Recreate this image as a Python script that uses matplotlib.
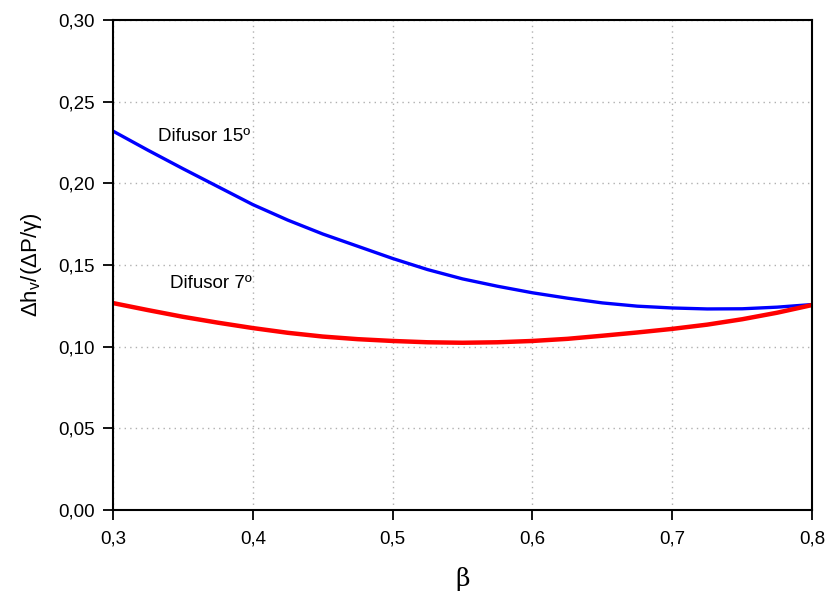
import numpy as np
import matplotlib.pyplot as plt

plt.rcParams['font.family'] = ['Liberation Sans', 'DejaVu Sans']

beta = [0.300, 0.325, 0.350, 0.375, 0.400, 0.425, 0.450, 0.475, 0.500, 0.525, 0.550,
        0.575, 0.600, 0.625, 0.650, 0.675, 0.700, 0.725, 0.750, 0.775, 0.800]
dif15 = [0.2320, 0.2203, 0.2090, 0.1980, 0.1870, 0.1775, 0.1690, 0.1615, 0.1540, 0.1472, 0.1415,
         0.1370, 0.1330, 0.1297, 0.1268, 0.1248, 0.1237, 0.1231, 0.1232, 0.1242, 0.1258]
dif7 = [0.1267, 0.1224, 0.1183, 0.1147, 0.1114, 0.1085, 0.1062, 0.1046, 0.1035, 0.1027, 0.1024,
        0.1027, 0.1035, 0.1048, 0.1067, 0.1087, 0.1109, 0.1135, 0.1168, 0.1208, 0.1255]

xticks = [0.3, 0.4, 0.5, 0.6, 0.7, 0.8]
yticks = [0.00, 0.05, 0.10, 0.15, 0.20, 0.25, 0.30]

fig = plt.figure(figsize=(8.27, 5.94), dpi=100)
ax = fig.add_axes([0.1366, 0.1414, 0.8454, 0.8249])

ax.plot(beta, dif15, color='#0000ff', lw=2.4, solid_capstyle='butt')
ax.plot(beta, dif7, color='#ff0000', lw=3.2, solid_capstyle='butt')

ax.text(0.332, 0.226, 'Difusor 15º', fontsize=13.5)
ax.text(0.3405, 0.136, 'Difusor 7º', fontsize=13.5)

ax.set_xlim(0.3, 0.8)
ax.set_ylim(0, 0.30)
ax.set_xticks(xticks)
ax.set_yticks(yticks)
ax.set_xticklabels([('%.1f' % v).replace('.', ',') for v in xticks])
ax.set_yticklabels([('%.2f' % v).replace('.', ',') for v in yticks])
ax.tick_params(direction='out', length=7, width=1.3, labelsize=13.5, pad=6)
ax.tick_params(axis='x', pad=8)
ax.grid(True, linestyle=(0, (1, 3)), color='#b0b0b0', lw=1)
for s in ax.spines.values():
    s.set_linewidth(1.5)

ax.set_xlabel('β', fontsize=18, family='DejaVu Serif', labelpad=14)
ax.set_ylabel('Δh$_\\mathregular{v}$/(ΔP/γ)', fontsize=16, labelpad=10)

fig.savefig('out.png', dpi=100)
